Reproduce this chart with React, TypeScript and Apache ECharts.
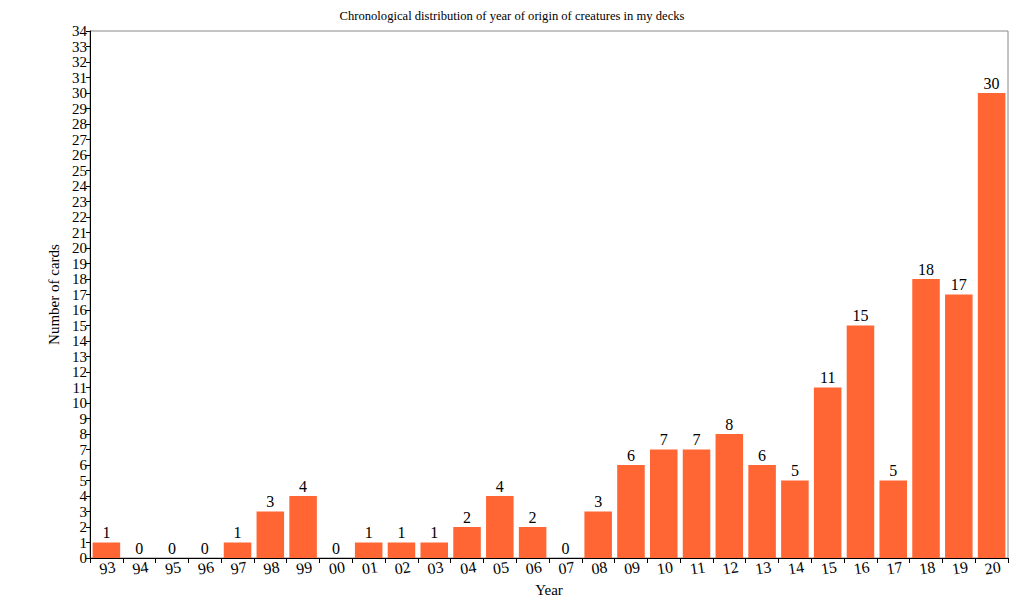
import React, { useEffect, useRef } from "react";
import * as echarts from "echarts";

const years = ["93","94","95","96","97","98","99","00","01","02","03","04","05","06","07","08","09","10","11","12","13","14","15","16","17","18","19","20"];
const counts = [1,0,0,0,1,3,4,0,1,1,1,2,4,2,0,3,6,7,7,8,6,5,11,15,5,18,17,30];

const FONT = "'Liberation Serif', 'Times New Roman', serif";

export default function App() {
  const ref = useRef<HTMLDivElement>(null);
  useEffect(() => {
    const chart = echarts.init(ref.current!, null, { renderer: "svg" });
    chart.setOption({
      animation: false,
      backgroundColor: "#ffffff",
      textStyle: { fontFamily: FONT },
      title: {
        text: "Chronological distribution of year of origin of creatures in my decks",
        left: "center",
        top: 4,
        textStyle: { fontFamily: FONT, fontSize: 12.6, fontWeight: "normal", color: "#000" },
      },
      grid: {
        left: 90, right: 16, top: 31, bottom: 47,
        show: true, borderColor: "#888", borderWidth: 1,
      },
      xAxis: {
        type: "category",
        data: years,
        name: "Year",
        nameLocation: "middle",
        nameGap: 24,
        nameTextStyle: { fontFamily: FONT, fontSize: 15, color: "#000" },
        axisLine: { lineStyle: { color: "#000" } },
        axisTick: { show: true, alignWithLabel: false, length: 5, lineStyle: { color: "#000" } },
        axisLabel: {
          fontFamily: FONT, fontSize: 16, color: "#000", rotate: 8, margin: 2, interval: 0,
          align: "center", verticalAlign: "top",
        },
      },
      yAxis: {
        type: "value",
        min: 0, max: 34, interval: 1,
        name: "Number of cards",
        nameLocation: "middle",
        nameGap: 18,
        nameTextStyle: { fontFamily: FONT, fontSize: 15, color: "#000" },
        axisLine: { show: true, lineStyle: { color: "#000" } },
        axisTick: { show: true, length: 4, lineStyle: { color: "#000" } },
        splitLine: { show: false },
        axisLabel: {
          fontFamily: FONT, fontSize: 15, color: "#000", margin: 3,
          showMinLabel: true, showMaxLabel: true, hideOverlap: false,
        },
      },
      series: [{
        type: "bar",
        data: counts,
        barCategoryGap: "16%",
        itemStyle: { color: "#FF6633" },
        label: {
          show: true, position: "top", distance: 2,
          fontFamily: FONT, fontSize: 16, color: "#000",
        },
      }],
    });
    return () => chart.dispose();
  }, []);
  return <div ref={ref} style={{ position: "fixed", left: 0, top: 0, width: 1024, height: 605 }} />;
}
